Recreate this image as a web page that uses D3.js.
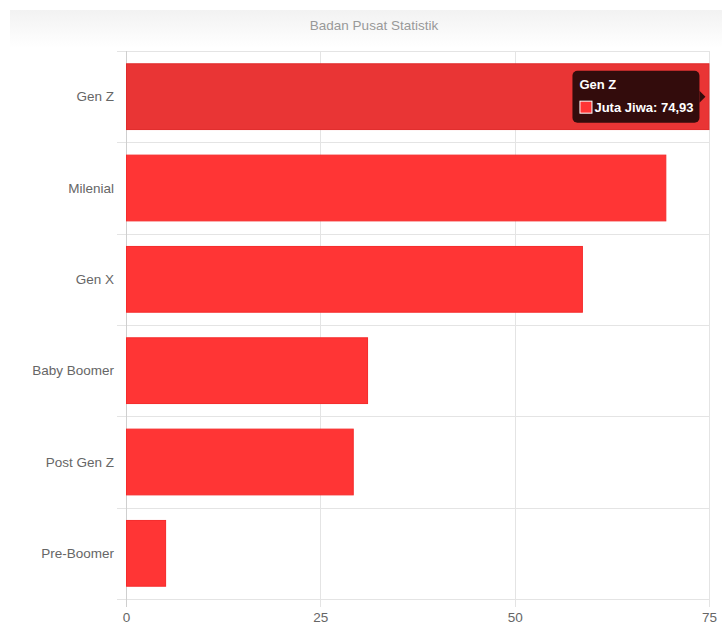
<!DOCTYPE html>
<html lang="en">
<head>
    <meta charset="UTF-8">
    <title>Badan Pusat Statistik</title>
    <script src="https://d3js.org/d3.v7.min.js"></script>
    <style>
        body { margin: 0; background: #fff; font-family: "Liberation Sans", Arial, sans-serif; }
        .tick text { fill: #666; font-size: 13.5px; font-family: "Liberation Sans", Arial, sans-serif; }
    </style>
</head>
<body>
    <div id="chart"></div>
    <script>
        // Data
        const categories = ["Gen Z", "Milenial", "Gen X", "Baby Boomer", "Post Gen Z", "Pre-Boomer"];
        const values = [74.93, 69.38, 58.65, 31.01, 29.17, 5.03];
        const xTicks = [0, 25, 50, 75];
        const seriesName = "Juta Jiwa";
        const hovered = "Gen Z";

        const width = 722, height = 624;
        const margin = { top: 51, right: 13, bottom: 25, left: 126 };

        const svg = d3.select("#chart").append("svg")
            .attr("width", width)
            .attr("height", height);

        // title band
        const grad = svg.append("defs").append("linearGradient")
            .attr("id", "titleGrad").attr("x1", 0).attr("y1", 0).attr("x2", 0).attr("y2", 1);
        grad.append("stop").attr("offset", "0%").attr("stop-color", "#f2f2f2");
        grad.append("stop").attr("offset", "100%").attr("stop-color", "#ffffff");
        svg.append("rect")
            .attr("x", 10).attr("y", 10).attr("width", width - 10).attr("height", 38)
            .attr("fill", "url(#titleGrad)");
        svg.append("text")
            .attr("x", 374).attr("y", 30)
            .attr("text-anchor", "middle")
            .attr("fill", "#999")
            .style("font-size", "13.5px")
            .text("Badan Pusat Statistik");

        const x = d3.scaleLinear().domain([0, 75]).range([margin.left, width - margin.right]);
        const y = d3.scaleBand().domain(categories).range([margin.top, height - margin.bottom]);
        const inner = 0.72;

        // horizontal grid (band boundaries)
        const bounds = categories.map(c => y(c)).concat([y.range()[1]]);
        svg.append("g").selectAll("line").data(bounds).enter().append("line")
            .attr("x1", margin.left - 9).attr("x2", width - margin.right)
            .attr("y1", d => Math.round(d) + 0.5).attr("y2", d => Math.round(d) + 0.5)
            .attr("stroke", "#e4e4e4");

        // vertical grid
        svg.append("g").selectAll("line").data(xTicks).enter().append("line")
            .attr("x1", d => Math.round(x(d)) + 0.5).attr("x2", d => Math.round(x(d)) + 0.5)
            .attr("y1", margin.top).attr("y2", height - margin.bottom + 8)
            .attr("stroke", d => d === 0 ? "#cfcfcf" : "#e4e4e4");

        // bars
        svg.append("g").selectAll("rect").data(categories).enter().append("rect")
            .attr("x", x(0) + 0.5)
            .attr("y", d => y(d) + y.bandwidth() * (1 - inner) / 2)
            .attr("width", (d, i) => x(values[i]) - x(0))
            .attr("height", y.bandwidth() * inner)
            .attr("fill", d => d === hovered ? "#e93535" : "#ff3535")
            .attr("stroke", d => d === hovered ? "#e02a2a" : "#f52a2a")
            .attr("stroke-width", 1);

        // axes
        const xAxis = svg.append("g")
            .attr("transform", `translate(0, ${height - margin.bottom + 1})`)
            .call(d3.axisBottom(x).tickValues(xTicks).tickSize(0).tickPadding(12));
        xAxis.select(".domain").remove();

        const yAxis = svg.append("g")
            .attr("transform", `translate(${margin.left - 12}, 0)`)
            .call(d3.axisLeft(y).tickSize(0).tickPadding(0));
        yAxis.select(".domain").remove();
        yAxis.selectAll("text").attr("dy", "0.35em");

        // tooltip
        const hi = categories.indexOf(hovered);
        const tipRight = x(values[hi]) - 9;
        const tipW = 127, tipH = 52;
        const cy = y(hovered) + y.bandwidth() / 2;
        const tip = svg.append("g");
        tip.append("rect")
            .attr("x", tipRight - tipW).attr("y", cy - tipH / 2)
            .attr("width", tipW).attr("height", tipH)
            .attr("rx", 5)
            .attr("fill", "#330c0c");
        tip.append("path")
            .attr("d", `M${tipRight},${cy - 6}L${tipRight + 6},${cy}L${tipRight},${cy + 6}Z`)
            .attr("fill", "#330c0c");
        tip.append("text")
            .attr("x", tipRight - tipW + 7).attr("y", cy - 8)
            .attr("fill", "#fff")
            .style("font-size", "13px").style("font-weight", "bold")
            .text(hovered);
        tip.append("rect")
            .attr("x", tipRight - tipW + 7.5).attr("y", cy + 4.5)
            .attr("width", 12).attr("height", 12)
            .attr("fill", "#ff3535").attr("stroke", "#fff").attr("stroke-width", 1);
        tip.append("text")
            .attr("x", tipRight - tipW + 22).attr("y", cy + 15)
            .attr("fill", "#fff")
            .style("font-size", "13px").style("font-weight", "bold")
            .text(seriesName + ": " + values[hi].toFixed(2).replace(".", ","));
    </script>
</body>
</html>
